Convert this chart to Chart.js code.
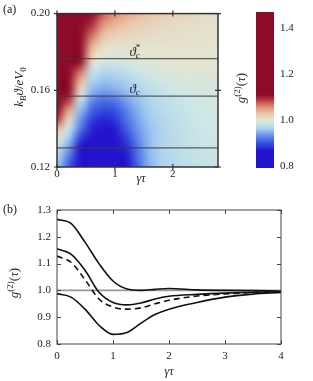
<!DOCTYPE html>
<html>
<head>
<meta charset="utf-8">
<script src="https://cdn.jsdelivr.net/npm/chart.js@4.4.1/dist/chart.umd.min.js"></script>
<style>
  html, body { margin: 0; padding: 0; background: #fff; }
  #wrap { position: relative; width: 313px; height: 381px; }
  canvas { position: absolute; }
</style>
</head>
<body>
<div id="wrap">
  <canvas id="mapChart" width="313" height="190" style="left:0;top:0;width:313px;height:190px"></canvas>
  <canvas id="barChart" width="83" height="190" style="left:230px;top:0;width:83px;height:190px"></canvas>
  <canvas id="lineChart" width="313" height="191" style="left:0;top:190px;width:313px;height:191px"></canvas>
</div>
<script>
// ---- panel (a): g2 map ----
const mapX = [0, 0.2, 0.4, 0.6, 0.8, 1.0, 1.2, 1.4, 1.6, 1.8, 2.0, 2.2, 2.4, 2.6, 2.8];
const mapY = [0.200, 0.195, 0.190, 0.185, 0.180, 0.175, 0.170, 0.165, 0.160,
              0.155, 0.150, 0.145, 0.140, 0.135, 0.130, 0.125, 0.120];
const mapG2 = [
  [1.45, 1.38, 1.26, 1.12, 1.075, 1.055, 1.045, 1.035, 1.028, 1.022, 1.017, 1.013, 1.01, 1.008, 1.006],
  [1.43, 1.35, 1.22, 1.095, 1.055, 1.04, 1.03, 1.022, 1.017, 1.013, 1.01, 1.008, 1.006, 1.005, 1.004],
  [1.41, 1.33, 1.19, 1.075, 1.035, 1.022, 1.016, 1.012, 1.01, 1.008, 1.006, 1.005, 1.004, 1.003, 1.002],
  [1.39, 1.30, 1.155, 1.05, 1.015, 1.008, 1.006, 1.005, 1.004, 1.004, 1.003, 1.003, 1.002, 1.002, 1.001],
  [1.37, 1.28, 1.13, 1.03, 1.0, 0.997, 0.998, 1.0, 1.001, 1.001, 1.001, 1.001, 1.001, 1.0, 1.0],
  [1.35, 1.25, 1.11, 1.01, 0.99, 0.99, 0.992, 0.995, 0.997, 0.998, 0.999, 0.999, 0.999, 0.999, 0.999],
  [1.33, 1.22, 1.07, 0.98, 0.97, 0.972, 0.978, 0.985, 0.99, 0.993, 0.995, 0.996, 0.997, 0.997, 0.997],
  [1.30, 1.19, 1.04, 0.965, 0.955, 0.958, 0.965, 0.975, 0.982, 0.987, 0.99, 0.992, 0.993, 0.994, 0.994],
  [1.27, 1.15, 1.01, 0.95, 0.94, 0.945, 0.955, 0.965, 0.975, 0.98, 0.985, 0.988, 0.99, 0.99, 0.99],
  [1.22, 1.09, 0.98, 0.93, 0.915, 0.92, 0.94, 0.955, 0.967, 0.975, 0.98, 0.984, 0.987, 0.988, 0.988],
  [1.16, 1.05, 0.955, 0.91, 0.895, 0.90, 0.925, 0.948, 0.963, 0.972, 0.978, 0.982, 0.985, 0.987, 0.988],
  [1.09, 1.01, 0.935, 0.89, 0.875, 0.885, 0.915, 0.942, 0.958, 0.968, 0.975, 0.98, 0.984, 0.986, 0.987],
  [1.04, 0.985, 0.92, 0.875, 0.855, 0.87, 0.905, 0.935, 0.955, 0.966, 0.974, 0.979, 0.983, 0.985, 0.986],
  [1.00, 0.96, 0.89, 0.855, 0.84, 0.852, 0.89, 0.928, 0.953, 0.965, 0.973, 0.978, 0.982, 0.984, 0.985],
  [0.978, 0.94, 0.865, 0.84, 0.835, 0.842, 0.875, 0.92, 0.952, 0.966, 0.973, 0.978, 0.981, 0.983, 0.984],
  [0.968, 0.92, 0.855, 0.83, 0.828, 0.834, 0.868, 0.915, 0.95, 0.965, 0.972, 0.977, 0.98, 0.982, 0.983],
  [0.96, 0.905, 0.845, 0.825, 0.822, 0.828, 0.86, 0.91, 0.948, 0.964, 0.971, 0.976, 0.979, 0.981, 0.982]
];
const mapXMax = 2.78;
const mapXTicks = [0, 1, 2];
const mapYTicks = [0.12, 0.16, 0.20];
const levelLines = [0.1765, 0.157, 0.130];
const barTicks = [0.8, 1.0, 1.2, 1.4];
const barMin = 0.79, barMax = 1.47;

// ---- panel (b): g2 cuts ----
const tauB = [0, 0.25, 0.5, 0.75, 1.0, 1.25, 1.5, 1.75, 2.0, 2.5, 3.0, 3.5, 4.0];
const g2High = [1.265, 1.25, 1.18, 1.10, 1.035, 1.005, 1.0, 1.004, 1.007, 1.002, 1.0, 0.999, 0.998];
const g2Mid  = [1.155, 1.135, 1.075, 0.993, 0.955, 0.946, 0.953, 0.968, 0.978, 0.985, 0.99, 0.993, 0.995];
const g2Dash = [1.128, 1.105, 1.04, 0.968, 0.938, 0.93, 0.935, 0.95, 0.963, 0.979, 0.987, 0.992, 0.995];
const g2Low  = [0.988, 0.975, 0.93, 0.87, 0.836, 0.843, 0.878, 0.91, 0.93, 0.955, 0.975, 0.986, 0.992];
const lineXTicks = [0, 1, 2, 3, 4];
const lineYTicks = [0.8, 0.9, 1.0, 1.1, 1.2, 1.3];

const serif = "'Liberation Serif', 'DejaVu Serif', serif";
const ink = '#222';

Chart.defaults.font.family = serif;
Chart.defaults.font.size = 11;
Chart.defaults.color = ink;
Chart.defaults.animation = false;
Chart.defaults.events = [];
Chart.defaults.plugins.legend.display = false;
Chart.defaults.plugins.tooltip.enabled = false;

// diverging colour map, blue -> beige -> dark red
const cmapStops = [
  [0.865, [35, 20, 205]],
  [0.90, [55, 85, 225]],
  [0.93, [100, 140, 235]],
  [0.96, [165, 205, 240]],
  [0.985, [205, 230, 230]],
  [1.0, [228, 228, 208]],
  [1.03, [235, 195, 165]],
  [1.06, [222, 135, 110]],
  [1.09, [178, 52, 62]],
  [1.11, [140, 12, 42]]
];

function cmap(v) {
  const s = cmapStops;
  if (v <= s[0][0]) return s[0][1];
  for (let i = 1; i < s.length; i++) {
    if (v <= s[i][0]) {
      const t = (v - s[i - 1][0]) / (s[i][0] - s[i - 1][0]);
      return s[i - 1][1].map((c, k) => Math.round(c + (s[i][1][k] - c) * t));
    }
  }
  return s[s.length - 1][1];
}

// draws text made of pieces (sub/superscripts), centred on x,y
function richText(ctx, parts, x, y, angle) {
  ctx.save();
  ctx.translate(x, y);
  ctx.rotate(angle || 0);
  let w = 0;
  parts.forEach(p => {
    p.font = (p.i ? 'italic ' : '') + p.s + 'px ' + serif;
    ctx.font = p.font;
    p.w = ctx.measureText(p.t).width;
    w += p.w;
  });
  let cx = -w / 2;
  ctx.fillStyle = ink;
  ctx.textBaseline = 'alphabetic';
  ctx.textAlign = 'left';
  parts.forEach(p => {
    ctx.font = p.font;
    ctx.fillText(p.t, cx, 4 + (p.dy || 0));
    cx += p.w;
  });
  ctx.restore();
}

function fixTicks(list) {
  return s => { s.ticks = list.map(v => ({ value: v })); };
}

// ---------- panel (a) ----------
const heatPlugin = {
  id: 'heat',
  beforeDatasetsDraw(chart) {
    const { ctx, chartArea: a, scales: { x, y } } = chart;
    const off = document.createElement('canvas');
    off.width = mapX.length;
    off.height = mapY.length;
    const octx = off.getContext('2d');
    const img = octx.createImageData(off.width, off.height);
    mapG2.forEach((row, j) => row.forEach((v, i) => {
      const c = cmap(v);
      const k = (j * off.width + i) * 4;
      img.data[k] = c[0]; img.data[k + 1] = c[1]; img.data[k + 2] = c[2]; img.data[k + 3] = 255;
    }));
    octx.putImageData(img, 0, 0);
    const hx = (mapX[1] - mapX[0]) / 2, hy = (mapY[0] - mapY[1]) / 2;
    const x0 = x.getPixelForValue(mapX[0] - hx), x1 = x.getPixelForValue(mapX[mapX.length - 1] + hx);
    const y0 = y.getPixelForValue(mapY[0] + hy), y1 = y.getPixelForValue(mapY[mapY.length - 1] - hy);
    ctx.save();
    ctx.beginPath();
    ctx.rect(a.left, a.top, a.width, a.height);
    ctx.clip();
    ctx.imageSmoothingEnabled = true;
    ctx.imageSmoothingQuality = 'high';
    ctx.drawImage(off, x0, y0, x1 - x0, y1 - y0);
    ctx.restore();
  },
  afterDatasetsDraw(chart) {
    const { ctx, chartArea: a, scales: { x, y } } = chart;
    ctx.save();
    ctx.strokeStyle = '#333';
    ctx.lineWidth = 1.5;
    ctx.strokeRect(a.left, a.top, a.width, a.height);
    ctx.lineWidth = 1.2;
    ctx.beginPath();
    x.ticks.forEach(t => {
      const px = x.getPixelForValue(t.value);
      ctx.moveTo(px, a.bottom - 3); ctx.lineTo(px, a.bottom + 3);
      ctx.moveTo(px, a.top - 3); ctx.lineTo(px, a.top + 3);
    });
    y.ticks.forEach(t => {
      const py = y.getPixelForValue(t.value);
      ctx.moveTo(a.left - 3, py); ctx.lineTo(a.left + 3, py);
      ctx.moveTo(a.right - 3, py); ctx.lineTo(a.right + 3, py);
    });
    ctx.stroke();

    // theta labels above the first two lines
    const lx = x.getPixelForValue(1.25);
    [[levelLines[0], true], [levelLines[1], false]].forEach(([lv, star]) => {
      const by = y.getPixelForValue(lv) - 3;
      ctx.fillStyle = ink;
      ctx.font = 'italic 13px ' + serif;
      ctx.fillText('ϑ', lx, by);
      const w = ctx.measureText('ϑ').width;
      ctx.font = 'italic 9px ' + serif;
      ctx.fillText('c', lx + w, by + 2);
      if (star) {
        ctx.font = '9px ' + serif;
        ctx.fillText('*', lx + w, by - 6);
      }
    });

    ctx.font = 'italic 12px ' + serif;
    ctx.textAlign = 'center';
    ctx.fillText('γτ', x.getPixelForValue(1.45), 182);
    ctx.font = '12px ' + serif;
    ctx.textAlign = 'left';
    ctx.fillText('(a)', 3, 13);
    ctx.restore();

    richText(ctx, [
      { t: 'k', i: 1, s: 13 }, { t: 'B', i: 1, s: 9, dy: 3 }, { t: 'ϑ', i: 1, s: 13 },
      { t: '/', s: 13 }, { t: 'e', i: 1, s: 13 }, { t: 'V', i: 1, s: 13 }, { t: '0', s: 9, dy: 3 }
    ], 19, 87, -Math.PI / 2);
  }
};

new Chart(document.getElementById('mapChart'), {
  type: 'scatter',
  data: {
    datasets: levelLines.map(v => ({
      data: [{ x: 0, y: v }, { x: mapXMax, y: v }],
      showLine: true,
      pointRadius: 0,
      borderColor: 'rgba(60,60,60,0.8)',
      borderWidth: 1.3
    }))
  },
  options: {
    responsive: false,
    layout: { padding: { left: 0, top: 7, right: 95, bottom: 0 } },
    scales: {
      x: {
        type: 'linear', min: 0, max: mapXMax,
        afterBuildTicks: fixTicks(mapXTicks),
        afterFit: s => { s.height = 23; },
        grid: { display: false, drawTicks: false },
        border: { display: false },
        ticks: { padding: 1, font: { size: 11 }, callback: v => String(v) }
      },
      y: {
        type: 'linear', min: 0.12, max: 0.20,
        afterBuildTicks: fixTicks(mapYTicks),
        afterFit: s => { s.width = 57; },
        grid: { display: false, drawTicks: false },
        border: { display: false },
        ticks: { padding: 7, font: { size: 11 }, callback: v => v.toFixed(2) }
      }
    }
  },
  plugins: [heatPlugin]
});

// ---------- colour bar ----------
const barPlugin = {
  id: 'bar',
  beforeDatasetsDraw(chart) {
    const { ctx, chartArea: a, scales: { y } } = chart;
    for (let py = Math.floor(a.top); py < a.bottom; py++) {
      const c = cmap(y.getValueForPixel(py + 0.5));
      ctx.fillStyle = 'rgb(' + c.join(',') + ')';
      ctx.fillRect(a.left, py, a.width, 1);
    }
    richText(ctx, [
      { t: 'g', i: 1, s: 13 }, { t: '(2)', s: 9, dy: -5 },
      { t: '(', s: 13 }, { t: 'τ', i: 1, s: 13 }, { t: ')', s: 13 }
    ], 11, 88, -Math.PI / 2);
  }
};

new Chart(document.getElementById('barChart'), {
  type: 'scatter',
  data: { datasets: [] },
  options: {
    responsive: false,
    layout: { padding: { left: 26, top: 6, right: 0, bottom: 22 } },
    scales: {
      x: { type: 'linear', min: 0, max: 1, display: false },
      y: {
        type: 'linear', position: 'right', min: barMin, max: barMax,
        afterBuildTicks: fixTicks(barTicks),
        afterFit: s => { s.width = 39; },
        grid: { display: false, drawTicks: false },
        border: { display: false },
        ticks: { padding: 6, font: { size: 11 }, callback: v => v.toFixed(1) }
      }
    }
  },
  plugins: [barPlugin]
});

// ---------- panel (b) ----------
const boxPlugin = {
  id: 'box',
  afterDatasetsDraw(chart) {
    const { ctx, chartArea: a, scales: { x, y } } = chart;
    ctx.save();
    ctx.strokeStyle = '#444';
    ctx.lineWidth = 1;
    ctx.strokeRect(a.left, a.top, a.width, a.height);
    ctx.beginPath();
    x.ticks.forEach(t => {
      const px = Math.round(x.getPixelForValue(t.value)) + 0.5;
      ctx.moveTo(px, a.bottom); ctx.lineTo(px, a.bottom - 4);
      ctx.moveTo(px, a.top); ctx.lineTo(px, a.top + 4);
    });
    y.ticks.forEach(t => {
      const py = Math.round(y.getPixelForValue(t.value)) + 0.5;
      ctx.moveTo(a.left, py); ctx.lineTo(a.left + 4, py);
      ctx.moveTo(a.right, py); ctx.lineTo(a.right - 4, py);
    });
    ctx.stroke();
    ctx.fillStyle = ink;
    ctx.font = '12px ' + serif;
    ctx.fillText('(b)', 3, 23);
    ctx.restore();
    richText(ctx, [
      { t: 'g', i: 1, s: 13 }, { t: '(2)', s: 9, dy: -5 },
      { t: '(', s: 13 }, { t: 'τ', i: 1, s: 13 }, { t: ')', s: 13 }
    ], 14, 93, -Math.PI / 2);
  }
};

function curve(values, dashed) {
  return {
    data: tauB.map((t, i) => ({ x: t, y: values[i] })),
    borderColor: '#111',
    borderWidth: 1.6,
    borderDash: dashed ? [6, 4] : [],
    pointRadius: 0,
    cubicInterpolationMode: 'monotone',
    order: 0
  };
}

new Chart(document.getElementById('lineChart'), {
  type: 'line',
  data: {
    datasets: [
      curve(g2High), curve(g2Mid), curve(g2Dash, true), curve(g2Low),
      {
        data: [{ x: 0, y: 1 }, { x: 4, y: 1 }],
        borderColor: '#9a9a9a', borderWidth: 1.8, pointRadius: 0, order: 10
      }
    ]
  },
  options: {
    responsive: false,
    layout: { padding: { left: 0, top: 20, right: 32, bottom: 0 } },
    scales: {
      x: {
        type: 'linear', min: 0, max: 4,
        afterBuildTicks: fixTicks(lineXTicks),
        afterFit: s => { s.height = 37; },
        grid: { display: false, drawTicks: false },
        border: { display: false },
        ticks: { padding: 6, font: { size: 11 }, callback: v => String(v) },
        title: {
          display: true, text: 'γτ', color: ink,
          font: { family: serif, size: 12, style: 'italic' },
          padding: { top: 0, bottom: 2 }
        }
      },
      y: {
        type: 'linear', min: 0.8, max: 1.3,
        afterBuildTicks: fixTicks(lineYTicks),
        afterFit: s => { s.width = 57; },
        grid: { display: false, drawTicks: false },
        border: { display: false },
        ticks: { padding: 6, font: { size: 11 }, callback: v => v.toFixed(1) }
      }
    }
  },
  plugins: [boxPlugin]
});
</script>
</body>
</html>
